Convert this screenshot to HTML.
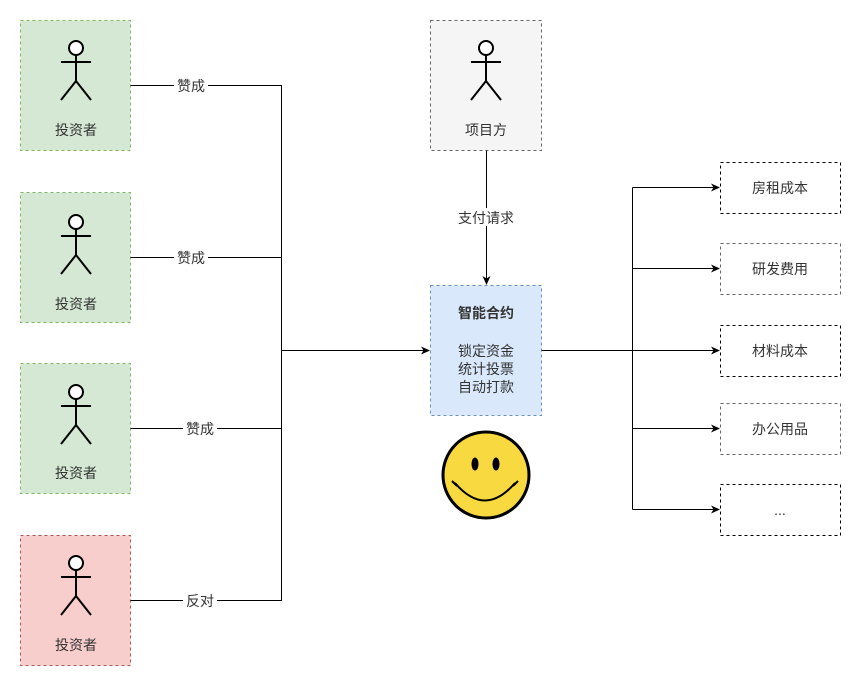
<!DOCTYPE html>
<html><head><meta charset="utf-8"><style>
html,body{margin:0;padding:0;background:#fff;}
text{font-family:"Liberation Sans","Noto Sans CJK SC",sans-serif;font-size:14px;fill:#333;}
</style></head><body>
<svg width="861" height="686" xmlns="http://www.w3.org/2000/svg">
<defs>
<marker id="a" markerWidth="10" markerHeight="10" refX="8" refY="5" orient="auto" markerUnits="userSpaceOnUse">
<path d="M0,1 L9,5 L0,9 L2.5,5 Z" fill="#000"/></marker>
<g id="actor" stroke="#000" stroke-width="2" fill="none">
<circle cx="0" cy="0" r="7" fill="#fff"/>
<line x1="0" y1="7" x2="0" y2="33"/>
<line x1="-15" y1="14" x2="15" y2="14"/>
<line x1="0" y1="33" x2="-15" y2="52"/>
<line x1="0" y1="33" x2="15" y2="52"/>
</g>
</defs>
<g stroke-dasharray="3,3" stroke-width="1">
<rect x="20.5" y="20.5" width="110" height="130" fill="#d5e8d4" stroke="#82b366"/>
<rect x="20.5" y="192.5" width="110" height="130" fill="#d5e8d4" stroke="#82b366"/>
<rect x="20.5" y="363.5" width="110" height="130" fill="#d5e8d4" stroke="#82b366"/>
<rect x="20.5" y="535.5" width="110" height="130" fill="#f8cecc" stroke="#b85450"/>
<rect x="430.5" y="20.5" width="111" height="130" fill="#f5f5f5" stroke="#666"/>
<rect x="430.5" y="285.5" width="111" height="130" fill="#dae8fc" stroke="#6c8ebf"/>
<rect x="720.5" y="162.5" width="120" height="51" fill="#fff" stroke="#000"/>
<rect x="720.5" y="243.5" width="120" height="51" fill="#fff" stroke="#666"/>
<rect x="720.5" y="325.5" width="120" height="51" fill="#fff" stroke="#000"/>
<rect x="720.5" y="403.5" width="120" height="51" fill="#fff" stroke="#666"/>
<rect x="720.5" y="484.5" width="120" height="51" fill="#fff" stroke="#000"/>
</g>
<use href="#actor" x="76" y="48"/>
<use href="#actor" x="76" y="222"/>
<use href="#actor" x="76" y="392"/>
<use href="#actor" x="76" y="563"/>
<use href="#actor" x="486" y="48"/>
<g text-anchor="middle">
<text x="76" y="135">投资者</text>
<text x="76" y="309">投资者</text>
<text x="76" y="478">投资者</text>
<text x="76" y="650">投资者</text>
<text x="486" y="135">项目方</text>
</g>
<g stroke="#000" stroke-width="1" fill="none">
<path d="M130.5,85.5H281.5V600.5H130.5"/>
<path d="M130.5,257.5H281.5"/>
<path d="M130.5,428.5H281.5"/>
<path d="M281.5,350.5H429" marker-end="url(#a)"/>
<path d="M486.5,150.5V284" marker-end="url(#a)"/>
<path d="M541.5,350.5H632.5"/>
<path d="M632.5,187.5V509.5"/>
<path d="M632.5,187.5H719" marker-end="url(#a)"/>
<path d="M632.5,268.5H719" marker-end="url(#a)"/>
<path d="M632.5,350.5H719" marker-end="url(#a)"/>
<path d="M632.5,428.5H719" marker-end="url(#a)"/>
<path d="M632.5,509.5H719" marker-end="url(#a)"/>
</g>
<g fill="#fff">
<rect x="174" y="76" width="34" height="18"/>
<rect x="174" y="248" width="34" height="18"/>
<rect x="183" y="419" width="34" height="18"/>
<rect x="183" y="591" width="34" height="18"/>
<rect x="453" y="208" width="66" height="18"/>
</g>
<g text-anchor="middle">
<text x="191" y="91">赞成</text>
<text x="191" y="263">赞成</text>
<text x="200" y="434">赞成</text>
<text x="200" y="606">反对</text>
<text x="486" y="223">支付请求</text>
<text x="486" y="318" font-weight="bold">智能合约</text>
<text x="486" y="356">锁定资金</text>
<text x="486" y="374">统计投票</text>
<text x="486" y="392">自动打款</text>
<text x="780" y="193">房租成本</text>
<text x="780" y="274">研发费用</text>
<text x="780" y="356">材料成本</text>
<text x="780" y="434">办公用品</text>
<text x="780" y="515">...</text>
</g>
<circle cx="486" cy="475" r="43" fill="#f8d93f" stroke="#000" stroke-width="3"/>
<ellipse cx="475" cy="464" rx="3.5" ry="6.5" fill="#000"/>
<ellipse cx="496" cy="464" rx="3.5" ry="6.5" fill="#000"/>
<path d="M455,483 Q485,518 515,483" stroke="#000" stroke-width="2" fill="none"/>
<path d="M452,481 L457,486 M518,481 L513,486" stroke="#000" stroke-width="2"/>
</svg>
</body></html>
